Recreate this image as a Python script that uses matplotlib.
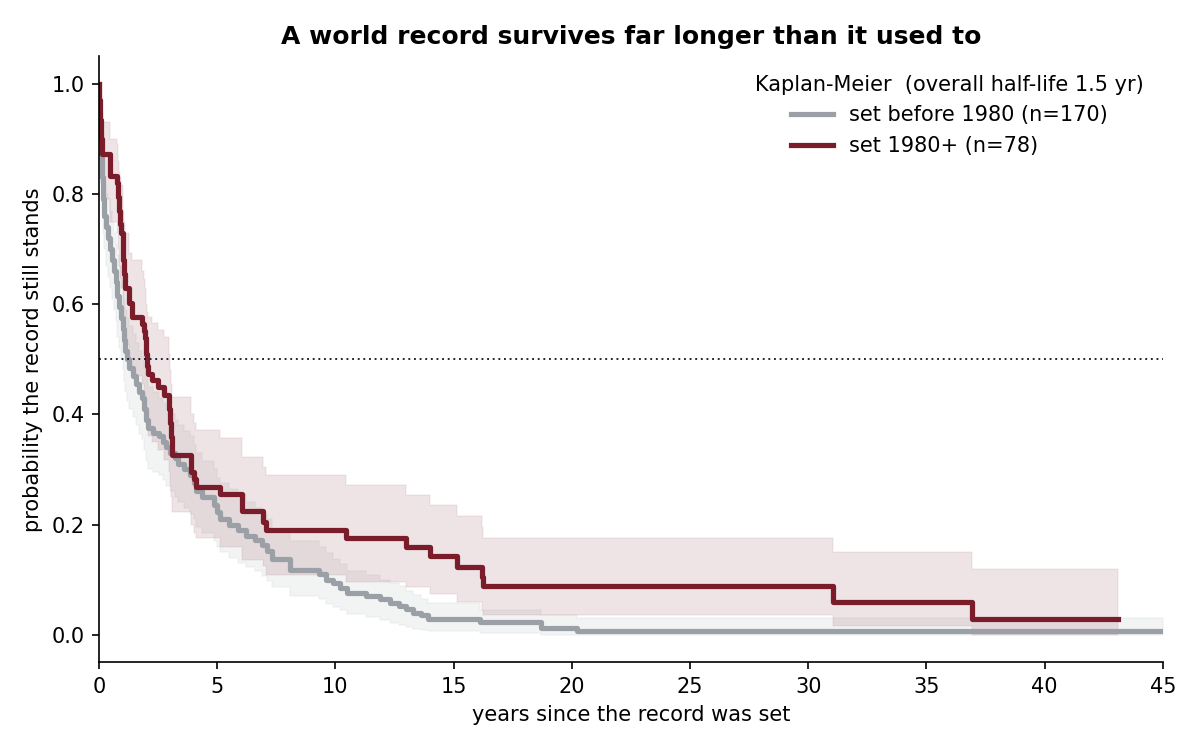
import numpy as np
import matplotlib
matplotlib.use("Agg")
from matplotlib import pyplot as plt

# Kaplan-Meier steps: time (yr), survival, lower / upper CI
old_t = [0, 0.02, 0.05, 0.08, 0.12, 0.17, 0.23, 0.30, 0.38, 0.48, 0.56, 0.63, 0.70,
         0.78, 0.85, 0.92, 1.00, 1.06, 1.12, 1.18, 1.28, 1.42, 1.55, 1.70, 1.80,
         1.90, 2.00, 2.07, 2.30, 2.55, 2.70, 2.85, 3.00, 3.20, 3.35, 3.60, 3.85,
         4.00, 4.10, 4.35, 4.85, 5.00, 5.10, 5.50, 5.90, 6.20, 6.60, 6.90, 7.10,
         7.30, 8.10, 9.30, 9.60, 9.90, 10.20, 10.50, 11.30, 11.90, 12.30, 12.70,
         13.00, 13.30, 13.60, 13.90, 16.10, 18.70, 20.20, 45.0]
old_s = [1.0, 0.95, 0.91, 0.87, 0.83, 0.79, 0.76, 0.74, 0.72, 0.70, 0.68, 0.66, 0.64,
         0.615, 0.595, 0.575, 0.555, 0.535, 0.515, 0.50, 0.485, 0.47, 0.455, 0.44, 0.43,
         0.41, 0.39, 0.375, 0.367, 0.36, 0.35, 0.34, 0.33, 0.32, 0.31, 0.30, 0.29,
         0.275, 0.26, 0.25, 0.235, 0.222, 0.21, 0.20, 0.19, 0.18, 0.172, 0.163, 0.152,
         0.137, 0.118, 0.11, 0.10, 0.093, 0.085, 0.076, 0.07, 0.064, 0.058, 0.052,
         0.046, 0.04, 0.035, 0.029, 0.023, 0.012, 0.006, 0.006]
old_lo = [1.0, 0.91, 0.86, 0.82, 0.77, 0.73, 0.70, 0.67, 0.65, 0.63, 0.61, 0.59, 0.57,
          0.54, 0.52, 0.50, 0.48, 0.46, 0.44, 0.425, 0.41, 0.395, 0.38, 0.365, 0.355,
          0.335, 0.315, 0.30, 0.295, 0.29, 0.28, 0.27, 0.26, 0.25, 0.24, 0.23, 0.22,
          0.21, 0.195, 0.185, 0.17, 0.16, 0.15, 0.14, 0.13, 0.122, 0.115, 0.107, 0.098,
          0.087, 0.07, 0.064, 0.056, 0.05, 0.044, 0.038, 0.032, 0.027, 0.022, 0.018,
          0.014, 0.011, 0.009, 0.007, 0.004, 0.0, 0.0, 0.0]
old_hi = [1.0, 0.98, 0.95, 0.92, 0.88, 0.85, 0.82, 0.80, 0.79, 0.77, 0.75, 0.73, 0.71,
          0.69, 0.67, 0.65, 0.63, 0.61, 0.59, 0.575, 0.56, 0.545, 0.53, 0.515, 0.505,
          0.485, 0.465, 0.45, 0.44, 0.43, 0.42, 0.41, 0.40, 0.39, 0.38, 0.37, 0.36,
          0.345, 0.33, 0.315, 0.30, 0.285, 0.275, 0.265, 0.255, 0.24, 0.23, 0.22, 0.21,
          0.19, 0.17, 0.16, 0.148, 0.138, 0.128, 0.116, 0.108, 0.10, 0.094, 0.088,
          0.08, 0.072, 0.065, 0.058, 0.045, 0.035, 0.03, 0.03]

new_t = [0, 0.02, 0.04, 0.06, 0.08, 0.10, 0.13, 0.47, 0.76, 0.80, 0.84, 0.88, 0.92,
         1.00, 1.03, 1.07, 1.11, 1.25, 1.38, 1.84, 1.90, 1.95, 2.00, 2.04, 2.07,
         2.25, 2.48, 2.75, 2.95, 3.00, 3.03, 3.07, 3.10, 3.90, 4.00, 4.10, 5.10,
         6.05, 6.95, 7.05, 10.45, 13.00, 14.00, 15.15, 16.20, 16.25, 31.05, 36.95, 43.1]
new_s = [1.0, 0.97, 0.95, 0.935, 0.92, 0.90, 0.872, 0.833, 0.82, 0.795, 0.77, 0.745, 0.73,
         0.705, 0.68, 0.655, 0.63, 0.603, 0.577, 0.564, 0.551, 0.538, 0.51, 0.487, 0.474,
         0.462, 0.449, 0.436, 0.41, 0.385, 0.359, 0.346, 0.327, 0.295, 0.282, 0.269, 0.256,
         0.224, 0.205, 0.19, 0.176, 0.16, 0.142, 0.123, 0.105, 0.089, 0.059, 0.029, 0.029]
new_lo = [1.0, 0.92, 0.89, 0.87, 0.85, 0.82, 0.79, 0.75, 0.73, 0.70, 0.67, 0.645, 0.63,
          0.60, 0.575, 0.55, 0.525, 0.495, 0.47, 0.455, 0.44, 0.425, 0.40, 0.375, 0.36,
          0.35, 0.336, 0.318, 0.295, 0.27, 0.25, 0.235, 0.223, 0.20, 0.185, 0.175, 0.16,
          0.136, 0.124, 0.109, 0.096, 0.087, 0.073, 0.06, 0.045, 0.036, 0.015, 0.0, 0.0]
new_hi = [1.0, 0.995, 0.98, 0.97, 0.96, 0.95, 0.93, 0.90, 0.89, 0.86, 0.84, 0.83, 0.817,
          0.79, 0.77, 0.75, 0.73, 0.693, 0.68, 0.66, 0.645, 0.63, 0.60, 0.585, 0.577,
          0.566, 0.553, 0.54, 0.51, 0.48, 0.455, 0.443, 0.432, 0.40, 0.385, 0.372, 0.357,
          0.323, 0.305, 0.29, 0.272, 0.254, 0.236, 0.216, 0.195, 0.175, 0.15, 0.12, 0.12]

old_label = "set before 1980 (n=170)"
new_label = "set 1980+ (n=78)"
grey = "#9aa0a6"
red = "#7b1c2a"

fig, ax = plt.subplots(figsize=(8, 5), dpi=150)
fig.subplots_adjust(left=0.0825, right=0.969, bottom=0.117, top=0.925)

# confidence bands
ax.fill_between(old_t, old_lo, old_hi, step="post", facecolor="#b9c4c4", alpha=0.18,
                edgecolor="#c8d0d0", linewidth=0.8)
ax.fill_between(new_t, new_lo, new_hi, step="post", facecolor=red, alpha=0.12,
                edgecolor="#b98a92", linewidth=0.8)

ax.step(old_t, old_s, where="post", color=grey, lw=2.5, label=old_label)
ax.step(new_t, new_s, where="post", color=red, lw=2.5, label=new_label)

ax.axhline(0.5, color="#1a1a2e", lw=0.9, ls=(0, (1, 2)))

ax.set_xlim(0, 45)
ax.set_ylim(-0.05, 1.05)
ax.set_xticks(np.arange(0, 46, 5))
ax.set_yticks(np.arange(0, 1.01, 0.2))
ax.spines["top"].set_visible(False)
ax.spines["right"].set_visible(False)
ax.set_xlabel("years since the record was set")
ax.set_ylabel("probability the record still stands")
ax.set_title("A world record survives far longer than it used to", fontweight="bold", fontsize=12)
ax.legend(title="Kaplan-Meier  (overall half-life 1.5 yr)", frameon=False, loc="upper right")

plt.savefig("out.png", dpi=150)
